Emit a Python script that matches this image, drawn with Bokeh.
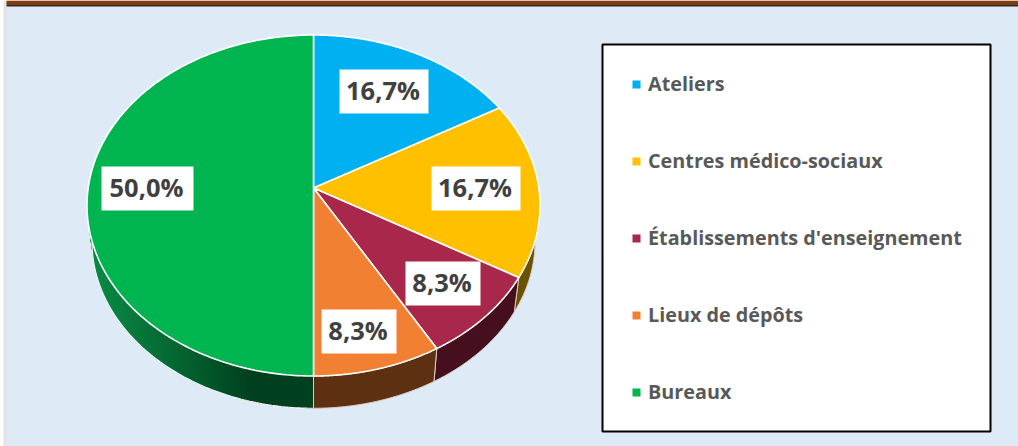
import numpy as np
from bokeh.plotting import figure
from bokeh.models import Range1d
from bokeh.core.properties import value
from bokeh.embed import file_html
from bokeh.resources import INLINE

categories = ["Ateliers", "Centres médico-sociaux", "Établissements d'enseignement", "Lieux de dépôts", "Bureaux"]
shares = [16.7, 16.7, 8.3, 8.3, 50.0]
colors = ["#00B0F0", "#FFC000", "#A9274A", "#F28033", "#00B550"]
wall_colors = ["#005A7A", "#6B5200", "#450F1E", "#5E3012", None]
label_x = [383.5, 475.5, 442.5, 358.5, 147]
label_y = [91, 188, 283, 331, 188]
label_w = [89, 89, 75, 75, 92]
legend_y = [84, 161, 238, 315, 392]

W, H = 1018, 446
CX, CY, RX, RY, TILT = 313, 205, 226.5, 170.5, 0.103
SHRINK, LOWER_CY = 0.978, 241.0

def project(theta):
    """Tilted circle -> screen; theta clockwise from 12 o'clock."""
    X, Y = np.sin(theta), np.cos(theta)
    d = 1 + TILT * Y
    return CX + RX * X * np.sqrt(1 - TILT**2) / d, CY - RY * (Y + TILT) / d

def lower(xs, ys):
    """Same points on the pie's lower rim, slightly smaller through perspective."""
    return CX + SHRINK * (xs - CX), LOWER_CY + SHRINK * (ys - CY)

p = figure(width=W, height=H, output_backend="svg", toolbar_location=None,
           x_range=Range1d(0, W), y_range=Range1d(H, 0), min_border=0,
           margin=0, border_fill_color="#FFFFFF",
           background_fill_color="#FFFFFF", outline_line_color=None)
p.axis.visible = False
p.grid.visible = False

# panel and title band
p.quad(left=[3], right=[W], top=[0], bottom=[H], fill_color="#E3E3E3", line_color=None)
p.quad(left=[6], right=[W], top=[0], bottom=[H], fill_color="#DEEAF6", line_color=None)
p.quad(left=[6], right=[W], top=[0], bottom=[4.5], fill_color="#843C0C", line_color=None)
p.quad(left=[6], right=[W], top=[4.5], bottom=[6], fill_color="#2B2B2B", line_color=None)

edges = np.concatenate([[0], np.cumsum(shares)]) / sum(shares) * 2 * np.pi

def front_theta(t0, t1, n=80):
    """Portion of the arc on the visible lower half of the ellipse."""
    ts = np.linspace(t0, t1, n)
    xs, ys = project(ts)
    return ts[ys >= CY]

GREEN_DARK = np.array([0x00, 0x40, 0x1E])
GREEN_LIGHT = np.array([0x0A, 0x8C, 0x46])

# side walls, coloured per slice
for i in range(len(shares)):
    ts = front_theta(edges[i], edges[i + 1], 240 if wall_colors[i] is None else 80)
    if len(ts) < 2:
        continue
    xs, ys = project(ts)
    lx, ly = lower(xs, ys)
    if wall_colors[i] is None:
        # shaded wall of the big slice: painted left to right, each strip overlapping the next
        for k in range(len(ts) - 1, 0, -1):
            frac = (CX - 0.5 * (xs[k] + xs[k - 1])) / RX
            mix = np.clip((frac - 0.28) / 0.72, 0, 1) ** 0.9
            c = GREEN_DARK + (GREEN_LIGHT - GREEN_DARK) * mix
            col = "#%02X%02X%02X" % tuple(int(v) for v in c)
            seg = np.arange(max(k - 4, 0), k + 1)
            p.patch(np.concatenate([xs[seg], lx[seg][::-1]]),
                    np.concatenate([ys[seg], ly[seg][::-1]]),
                    fill_color=col, line_color=None)
        p.line(lx, ly, line_color="#F2F6FA", line_width=1.2)
        p.line([xs[0], lx[0]], [ys[0], ly[0]], line_color="#D9CFC8", line_width=1.0)
    else:
        p.patch(np.concatenate([xs, lx[::-1]]), np.concatenate([ys, ly[::-1]]),
                fill_color=wall_colors[i], line_color="#D9CFC8", line_width=1.0)

# top faces
ax, ay = CX, CY - RY * TILT
for i, c in enumerate(colors):
    xs, ys = project(np.linspace(edges[i], edges[i + 1], 200))
    p.patch(np.concatenate([[ax], xs]), np.concatenate([[ay], ys]),
            fill_color=c, line_color="#FFFFFF", line_width=1.6)

# data labels
texts = [f"{v:.1f}%".replace(".", ",") for v in shares]
p.rect(x=label_x, y=label_y, width=label_w, height=44, fill_color="#FFFFFF", line_color=None)
p.text(x=[v - 1 for v in label_x], y=[v - 1.5 for v in label_y], text=texts, text_align="center", text_baseline="middle",
       text_font=value("Open Sans"), text_font_style="bold", text_font_size="25.5px", text_color="#404040")

# legend box
p.quad(left=[602], right=[990], top=[44], bottom=[431], fill_color="#FFFFFF",
       line_color="#000000", line_width=2)
p.rect(x=[636] * 5, y=legend_y, width=8, height=8, fill_color=colors, line_color=None)
p.text(x=[647.5] * 5, y=[v - 1 for v in legend_y], text=categories, text_align="left", text_baseline="middle",
       text_font=value("Open Sans"), text_font_style="bold", text_font_size="19.8px", text_color="#595959")

open("out.html", "w").write(file_html(p, INLINE))
